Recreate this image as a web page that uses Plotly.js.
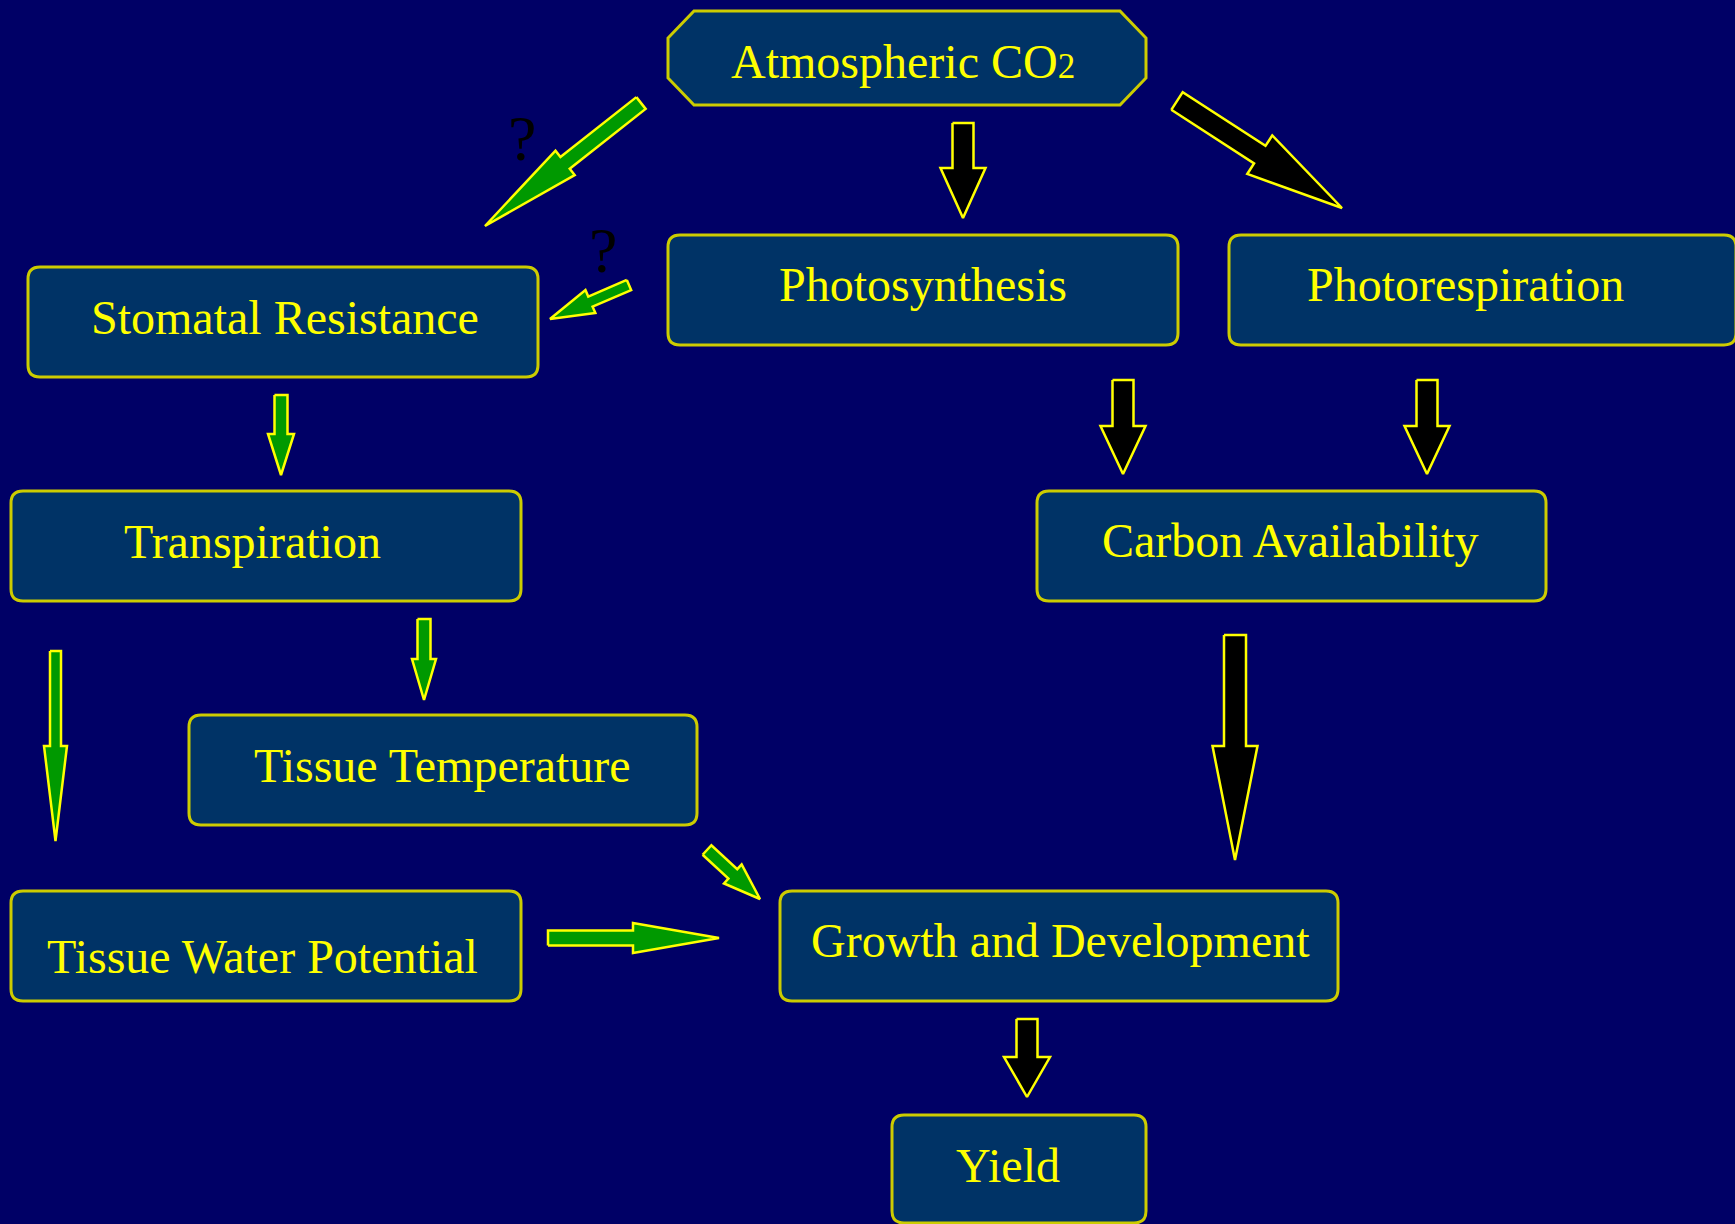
<!DOCTYPE html>
<html>
<head>
<meta charset="utf-8">
<script src="https://cdn.plot.ly/plotly-3.0.1.min.js"></script>
<style>
  html, body { margin: 0; padding: 0; background: #000066; }
  #chart { width: 1735px; height: 1224px; }
</style>
</head>
<body>
<div id="chart"></div>
<script>
// ---- Diagram content ----
const nodeLabels = [
  'Stomatal Resistance', 'Photosynthesis', 'Photorespiration',
  'Transpiration', 'Carbon Availability', 'Tissue Temperature',
  'Tissue Water Potential', 'Growth and Development', 'Yield'
];
const topLabel = 'Atmospheric CO<span style="font-size:35px">2</span>';
const questionLabels = ['?', '?'];

// ---- Node geometry (px coordinates, y downward) ----
const boxX0 = [28, 668, 1229, 11, 1037, 189, 11, 780, 892];
const boxX1 = [538, 1178, 1736, 521, 1546, 697, 521, 1338, 1146];
const boxY0 = [267, 235, 235, 491, 491, 715, 891, 891, 1115];
const boxY1 = [377, 345, 345, 601, 601, 825, 1001, 1001, 1223];
const textX = [285, 923, 1465, 252, 1290, 442, 262, 1060, 1008];
const textBase = [333, 300, 300, 557, 556, 781, 972, 956, 1181];

const topBox = {x0: 668, x1: 1146, y0: 11, y1: 105, cx: 26, cy: 27, tx: 903, tb: 77};
const questionX = [522, 603];
const questionBase = [159, 271];

// ---- Arrows: tail, tip, shaft width, head width, head length, fill ----
const arrowTailX = [641, 629, 963, 1177, 1123, 1427, 1235, 1027, 281, 424, 55.5, 548, 707];
const arrowTailY = [103, 285, 123, 101, 380, 380, 635, 1019, 395, 619, 651, 938, 850];
const arrowTipX  = [485, 550, 963, 1342, 1123, 1427, 1235, 1027, 281, 424, 55.5, 719, 760];
const arrowTipY  = [226, 319, 218, 208, 474, 474, 860, 1097, 475, 700, 841, 938, 899];
const arrowShaft = [15, 11, 21, 21, 21, 21, 22, 21, 13, 13, 11, 15, 13];
const arrowHeadW = [31, 25, 45, 46, 45, 45, 45, 46, 26, 24, 23, 30, 26];
const arrowHeadL = [102, 44, 50, 98, 48, 48, 114, 40, 41, 41, 95, 86, 37];
const arrowKind  = ['g','g','k','k','k','k','k','k','g','g','g','g','g'];

const W = 1735, H = 1224;
const BG = '#000066', BOXFILL = '#003366', BORDER = '#cccc00', YEL = '#ffff00', GREEN = '#009900';
const FONT = '"Liberation Serif", "Times New Roman", serif';

function roundRectPath(x0, x1, y0, y1, r) {
  return `M ${x0 + r} ${y0} L ${x1 - r} ${y0} Q ${x1} ${y0} ${x1} ${y0 + r} ` +
         `L ${x1} ${y1 - r} Q ${x1} ${y1} ${x1 - r} ${y1} ` +
         `L ${x0 + r} ${y1} Q ${x0} ${y1} ${x0} ${y1 - r} ` +
         `L ${x0} ${y0 + r} Q ${x0} ${y0} ${x0 + r} ${y0} Z`;
}

const shapes = [];
// octagonal top box
shapes.push({
  type: 'path', xref: 'x', yref: 'y', layer: 'below',
  path: `M ${topBox.x0 + topBox.cx} ${topBox.y0} L ${topBox.x1 - topBox.cx} ${topBox.y0} ` +
        `L ${topBox.x1} ${topBox.y0 + topBox.cy} L ${topBox.x1} ${topBox.y1 - topBox.cy} ` +
        `L ${topBox.x1 - topBox.cx} ${topBox.y1} L ${topBox.x0 + topBox.cx} ${topBox.y1} ` +
        `L ${topBox.x0} ${topBox.y1 - topBox.cy} L ${topBox.x0} ${topBox.y0 + topBox.cy} Z`,
  fillcolor: BOXFILL, line: {color: BORDER, width: 3}
});
for (let i = 0; i < nodeLabels.length; i++) {
  shapes.push({
    type: 'path', xref: 'x', yref: 'y', layer: 'below',
    path: roundRectPath(boxX0[i], boxX1[i], boxY0[i], boxY1[i], 12),
    fillcolor: BOXFILL, line: {color: BORDER, width: 3}
  });
}

// arrows as filled scatter polygons
const traces = [];
for (let i = 0; i < arrowTailX.length; i++) {
  const tx = arrowTailX[i], ty = arrowTailY[i], px = arrowTipX[i], py = arrowTipY[i];
  const dx = px - tx, dy = py - ty, len = Math.hypot(dx, dy);
  const ux = dx / len, uy = dy / len, nx = -uy, ny = ux;
  const bx = px - ux * arrowHeadL[i], by = py - uy * arrowHeadL[i];
  const w = arrowShaft[i] / 2, hw = arrowHeadW[i] / 2;
  const xs = [tx + nx * w, bx + nx * w, bx + nx * hw, px, bx - nx * hw, bx - nx * w, tx - nx * w, tx + nx * w];
  const ys = [ty + ny * w, by + ny * w, by + ny * hw, py, by - ny * hw, by - ny * w, ty - ny * w, ty + ny * w];
  traces.push({
    type: 'scatter', mode: 'lines', x: xs, y: ys, fill: 'toself',
    fillcolor: arrowKind[i] === 'g' ? GREEN : '#000000',
    line: {color: YEL, width: 2.5}, hoverinfo: 'skip', showlegend: false
  });
}

// text annotations
const annotations = [];
annotations.push({
  x: topBox.tx, y: topBox.tb - 16, xref: 'x', yref: 'y', text: topLabel, showarrow: false,
  xanchor: 'center', yanchor: 'middle', font: {family: FONT, size: 48, color: YEL}
});
for (let i = 0; i < nodeLabels.length; i++) {
  annotations.push({
    x: textX[i], y: textBase[i] - 16, xref: 'x', yref: 'y', text: nodeLabels[i], showarrow: false,
    xanchor: 'center', yanchor: 'middle', font: {family: FONT, size: 48, color: YEL}
  });
}
for (let i = 0; i < questionLabels.length; i++) {
  annotations.push({
    x: questionX[i], y: questionBase[i] - 21, xref: 'x', yref: 'y', text: questionLabels[i], showarrow: false,
    xanchor: 'center', yanchor: 'middle', font: {family: FONT, size: 64, color: '#000000'}
  });
}

const layout = {
  width: W, height: H,
  margin: {l: 0, r: 0, t: 0, b: 0, pad: 0},
  paper_bgcolor: BG, plot_bgcolor: BG,
  xaxis: {range: [0, W], visible: false, fixedrange: true},
  yaxis: {range: [H, 0], visible: false, fixedrange: true},
  shapes: shapes, annotations: annotations, showlegend: false, hovermode: false
};

Plotly.newPlot('chart', traces, layout, {displayModeBar: false, staticPlot: true});
</script>
</body>
</html>
